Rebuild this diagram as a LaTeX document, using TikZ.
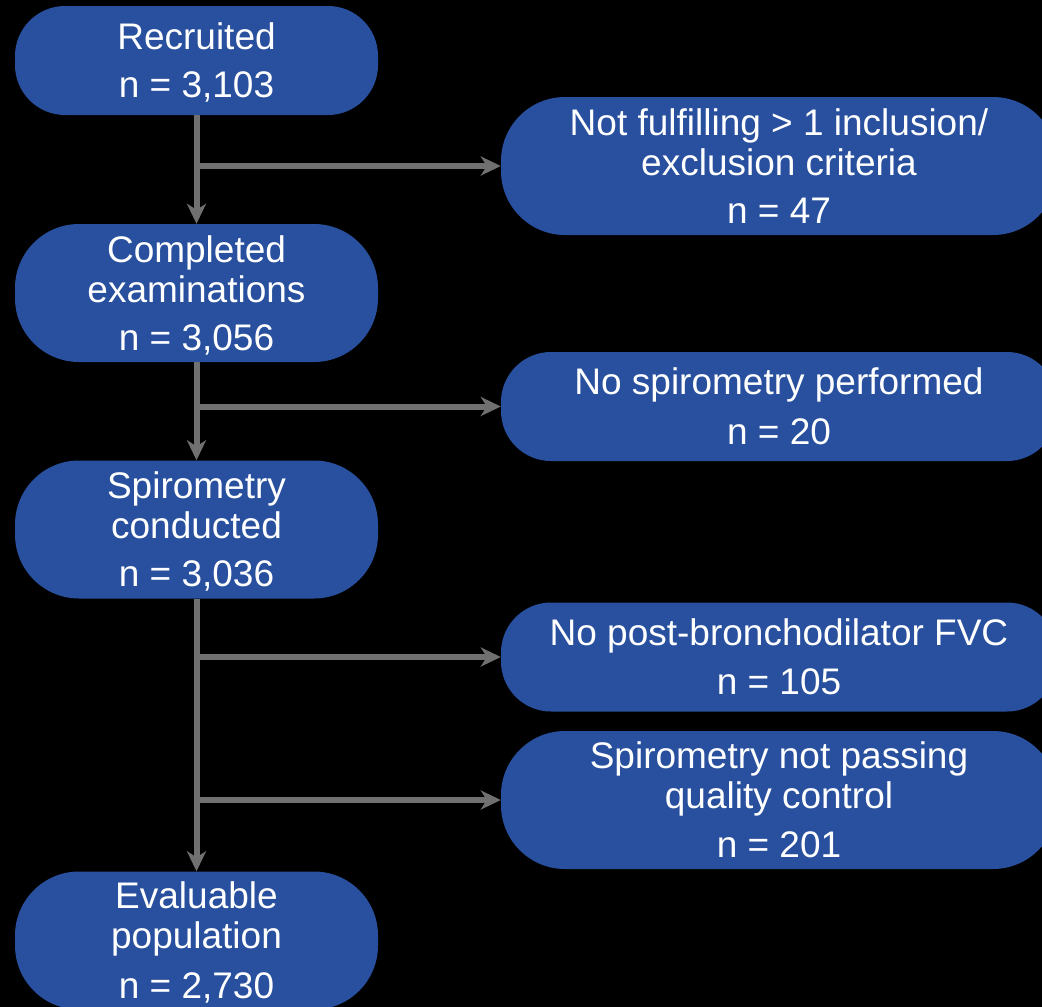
\documentclass[tikz,border=0pt]{standalone}
\usepackage{fontspec}
\setmainfont{Liberation Sans}
\usetikzlibrary{arrows.meta}
\definecolor{boxblue}{RGB}{40,80,158}
\definecolor{linkgray}{RGB}{112,112,112}
% strut that keeps first and last lines of each box balanced
\newcommand{\lnstrut}{\rule[-7pt]{0pt}{40pt}}

\begin{document}
\begin{tikzpicture}[x=1pt,y=-1pt,
  stage/.style={fill=boxblue, text=white, align=center, inner sep=0pt,
    font=\fontsize{37}{40}\selectfont},
  leftbox/.style={stage, minimum width=363pt},
  rightbox/.style={stage, minimum width=556pt},
  short/.style={minimum height=109pt, rounded corners=50pt},
  tall/.style={minimum height=138pt, rounded corners=64pt},
  link/.style={draw=linkgray, line width=6pt,
    -{Stealth[length=20pt,width=19pt,inset=6pt]}}
]
\fill[black] (0,0) rectangle (1042,1007);
\useasboundingbox (0,0) rectangle (1042,1007);
\clip (0,0) rectangle (1042,1007);

% main flow
\node[leftbox, short] (rec)  at (196.5,60.5)
  {\lnstrut Recruited\\[8pt]n = 3,103\lnstrut};
\node[leftbox, tall]  (comp) at (196.5,293)
  {\lnstrut Completed\\examinations\\[8pt]n = 3,056\lnstrut};
\node[leftbox, tall]  (spiro) at (196.5,529.5)
  {\lnstrut Spirometry\\conducted\\[8pt]n = 3,036\lnstrut};
\node[leftbox, tall]  (eval) at (196.5,940.5)
  {\lnstrut Evaluable\\population\\[8pt]n = 2,730\lnstrut};

% exclusions
\node[rightbox, tall]  (excl) at (779,166)
  {\lnstrut Not fulfilling > 1 inclusion/\\exclusion criteria\\[8pt]n = 47\lnstrut};
\node[rightbox, short] (nospiro) at (779,406.5)
  {\lnstrut No spirometry performed\\[8pt]n = 20\lnstrut};
\node[rightbox, short] (nofvc) at (779,657)
  {\lnstrut No post-bronchodilator FVC\\[8pt]n = 105\lnstrut};
\node[rightbox, tall]  (noqc) at (779,800)
  {\lnstrut Spirometry not passing\\quality control\\[8pt]n = 201\lnstrut};

% connectors
\draw[link] (rec.south) -- (comp.north);
\draw[link] (rec.south |- excl.west) -- (excl.west);
\draw[link] (comp.south) -- (spiro.north);
\draw[link] (comp.south |- nospiro.west) -- (nospiro.west);
\draw[link] (spiro.south) -- (eval.north);
\draw[link] (spiro.south |- nofvc.west) -- (nofvc.west);
\draw[link] (spiro.south |- noqc.west) -- (noqc.west);
\end{tikzpicture}
\end{document}
